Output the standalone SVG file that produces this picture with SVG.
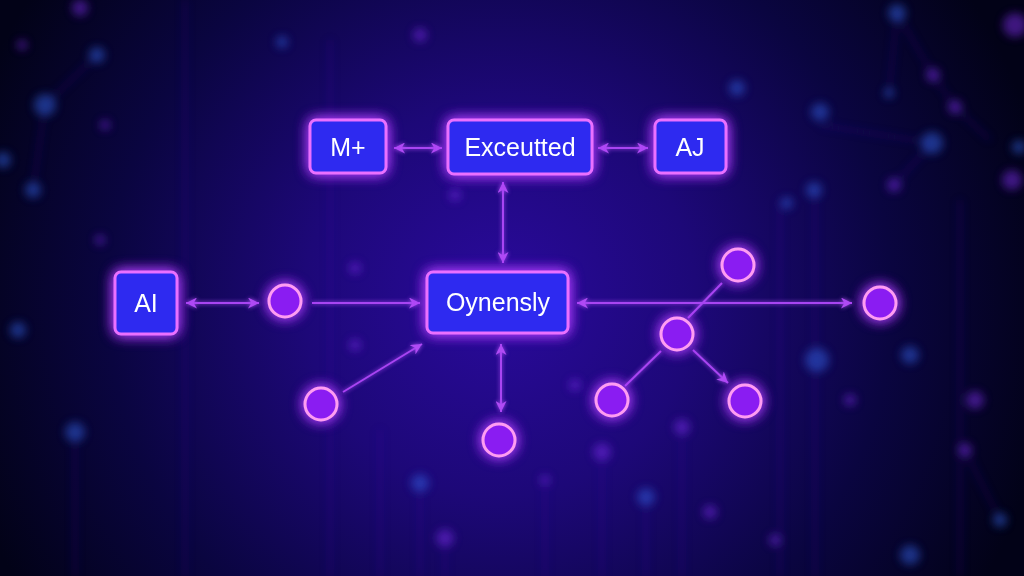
<svg xmlns="http://www.w3.org/2000/svg" width="1024" height="576" viewBox="0 0 1024 576">
  <defs>
    <radialGradient id="bg" cx="500" cy="300" r="560" gradientUnits="userSpaceOnUse">
      <stop offset="0" stop-color="#2a0a9c"/>
      <stop offset="0.35" stop-color="#1d0878"/>
      <stop offset="0.7" stop-color="#0a0540"/>
      <stop offset="1" stop-color="#020217"/>
    </radialGradient>
    <filter id="glow" x="-60%" y="-60%" width="220%" height="220%">
      <feGaussianBlur in="SourceAlpha" stdDeviation="7" result="b"/>
      <feFlood flood-color="#b03cff" flood-opacity="0.85"/>
      <feComposite in2="b" operator="in" result="halo"/>
      <feMerge><feMergeNode in="halo"/><feMergeNode in="halo"/><feMergeNode in="SourceGraphic"/></feMerge>
    </filter>
    <filter id="soft" x="-100%" y="-100%" width="300%" height="300%">
      <feGaussianBlur stdDeviation="4"/>
    </filter>
    <filter id="lineglow" x="-20%" y="-20%" width="140%" height="140%">
      <feGaussianBlur in="SourceGraphic" stdDeviation="2" result="b"/>
      <feMerge><feMergeNode in="b"/><feMergeNode in="SourceGraphic"/></feMerge>
    </filter>
    <marker id="ah" viewBox="0 0 10 10" refX="10" refY="5" markerWidth="5.5" markerHeight="5.5" orient="auto-start-reverse" markerUnits="strokeWidth">
      <path d="M0,0 L10,5 L0,10 L3,5 z" fill="#b04cf5"/>
    </marker>
    <style>
      .box { fill: #2d2cf0; stroke: #ea70ff; stroke-width: 3; }
      .lbl { fill: #ffffff; font-family: "Liberation Sans", Arial, sans-serif; font-size: 25px; text-anchor: middle; dominant-baseline: central; }
      .dot { fill: #8a1ff2; stroke: #ff9cf2; stroke-width: 3; }
      .conn { stroke: #a844f2; stroke-width: 2; fill: none; }
      .bgl { stroke: #3a2bb0; stroke-width: 2; opacity: 0.4; }
      .bgb { fill: #2f5fe0; opacity: 0.5; }
      .bgp { fill: #7a2be8; opacity: 0.5; }
    </style>
  </defs>

  <rect width="1024" height="576" fill="url(#bg)"/>

  <g id="background" filter="url(#soft)">
    <line class="bgl" x1="185" y1="0" x2="185" y2="576"/>
    <line class="bgl" x1="330" y1="40" x2="330" y2="576"/>
    <line class="bgl" x1="420" y1="483" x2="420" y2="576"/>
    <line class="bgl" x1="445" y1="538" x2="445" y2="576"/>
    <line class="bgl" x1="602" y1="452" x2="602" y2="576"/>
    <line class="bgl" x1="646" y1="497" x2="646" y2="576"/>
    <line class="bgl" x1="682" y1="427" x2="682" y2="576"/>
    <line class="bgl" x1="545" y1="480" x2="545" y2="576"/>
    <line class="bgl" x1="380" y1="430" x2="380" y2="576"/>
    <line class="bgl" x1="780" y1="200" x2="780" y2="576"/>
    <line class="bgl" x1="815" y1="190" x2="815" y2="576"/>
    <line class="bgl" x1="897" y1="13" x2="889" y2="93"/>
    <line class="bgl" x1="897" y1="13" x2="933" y2="75"/>
    <line class="bgl" x1="933" y1="75" x2="955" y2="107"/>
    <line class="bgl" x1="955" y1="107" x2="990" y2="140"/>
    <line class="bgl" x1="820" y1="125" x2="932" y2="143"/>
    <line class="bgl" x1="932" y1="143" x2="894" y2="185"/>
    <line class="bgl" x1="45" y1="105" x2="97" y2="55"/>
    <line class="bgl" x1="45" y1="105" x2="33" y2="190"/>
    <line class="bgl" x1="965" y1="450" x2="1000" y2="520"/>
    <line class="bgl" x1="960" y1="200" x2="960" y2="576"/>
    <line class="bgl" x1="75" y1="432" x2="75" y2="576"/>
    <circle class="bgb" cx="45" cy="105" r="11"/>
    <circle class="bgb" cx="97" cy="55" r="8"/>
    <circle class="bgp" cx="22" cy="45" r="5"/>
    <circle class="bgb" cx="33" cy="190" r="8"/>
    <circle class="bgb" cx="3" cy="160" r="8"/>
    <circle class="bgp" cx="105" cy="125" r="5"/>
    <circle class="bgb" cx="282" cy="42" r="6"/>
    <circle class="bgp" cx="80" cy="8" r="8"/>
    <circle class="bgb" cx="18" cy="330" r="8"/>
    <circle class="bgb" cx="75" cy="432" r="10"/>
    <circle class="bgp" cx="100" cy="240" r="5"/>
    <circle class="bgp" cx="420" cy="35" r="7"/>
    <circle class="bgp" cx="455" cy="195" r="6"/>
    <circle class="bgp" cx="355" cy="268" r="6"/>
    <circle class="bgp" cx="355" cy="345" r="6"/>
    <circle class="bgb" cx="420" cy="483" r="9"/>
    <circle class="bgp" cx="445" cy="538" r="9"/>
    <circle class="bgp" cx="602" cy="452" r="9"/>
    <circle class="bgb" cx="646" cy="497" r="9"/>
    <circle class="bgp" cx="682" cy="427" r="8"/>
    <circle class="bgp" cx="710" cy="512" r="7"/>
    <circle class="bgp" cx="545" cy="480" r="5"/>
    <circle class="bgp" cx="575" cy="385" r="6"/>
    <circle class="bgb" cx="897" cy="13" r="9"/>
    <circle class="bgp" cx="933" cy="75" r="7"/>
    <circle class="bgb" cx="889" cy="93" r="5"/>
    <circle class="bgp" cx="955" cy="107" r="7"/>
    <circle class="bgb" cx="932" cy="143" r="11"/>
    <circle class="bgp" cx="894" cy="185" r="7"/>
    <circle class="bgb" cx="820" cy="112" r="9"/>
    <circle class="bgb" cx="737" cy="88" r="8"/>
    <circle class="bgb" cx="814" cy="190" r="8"/>
    <circle class="bgb" cx="787" cy="203" r="6"/>
    <circle class="bgp" cx="1012" cy="180" r="10"/>
    <circle class="bgp" cx="1015" cy="25" r="12"/>
    <circle class="bgb" cx="1019" cy="147" r="7"/>
    <circle class="bgb" cx="817" cy="360" r="12"/>
    <circle class="bgb" cx="910" cy="355" r="9"/>
    <circle class="bgp" cx="975" cy="400" r="9"/>
    <circle class="bgp" cx="965" cy="450" r="7"/>
    <circle class="bgp" cx="850" cy="400" r="6"/>
    <circle class="bgb" cx="1000" cy="520" r="7"/>
    <circle class="bgb" cx="910" cy="555" r="10"/>
    <circle class="bgp" cx="775" cy="540" r="6"/>
  </g>

  <g id="connectors" class="conn" filter="url(#lineglow)">
    <line x1="394" y1="148" x2="442" y2="148" marker-start="url(#ah)" marker-end="url(#ah)"/>
    <line x1="598" y1="148" x2="648" y2="148" marker-start="url(#ah)" marker-end="url(#ah)"/>
    <line x1="503" y1="182" x2="503" y2="263" marker-start="url(#ah)" marker-end="url(#ah)"/>
    <line x1="186" y1="303" x2="259" y2="303" marker-start="url(#ah)" marker-end="url(#ah)"/>
    <line x1="312" y1="303" x2="420" y2="303" marker-end="url(#ah)"/>
    <line x1="343" y1="392" x2="422" y2="344" marker-end="url(#ah)"/>
    <line x1="501" y1="344" x2="501" y2="412" marker-start="url(#ah)" marker-end="url(#ah)"/>
    <line x1="577" y1="303" x2="852" y2="303" marker-start="url(#ah)" marker-end="url(#ah)"/>
    <line x1="722" y1="283" x2="688" y2="318"/>
    <line x1="661" y1="351" x2="625" y2="386"/>
    <line x1="693" y1="350" x2="728" y2="383" marker-end="url(#ah)"/>
  </g>

  <g id="node-mplus" filter="url(#glow)">
    <rect class="box" x="310" y="120" width="76" height="53" rx="6"/>
    <text class="lbl" x="348" y="147">M+</text>
  </g>
  <g id="node-executed" filter="url(#glow)">
    <rect class="box" x="448" y="120" width="144" height="54" rx="6"/>
    <text class="lbl" x="520" y="147">Exceutted</text>
  </g>
  <g id="node-aj" filter="url(#glow)">
    <rect class="box" x="655" y="120" width="71" height="53" rx="6"/>
    <text class="lbl" x="690" y="147">AJ</text>
  </g>
  <g id="node-ai" filter="url(#glow)">
    <rect class="box" x="115" y="272" width="62" height="62" rx="6"/>
    <text class="lbl" x="146" y="303">AI</text>
  </g>
  <g id="node-oynensly" filter="url(#glow)">
    <rect class="box" x="427" y="272" width="141" height="61" rx="6"/>
    <text class="lbl" x="498" y="302">Oynensly</text>
  </g>

  <g id="circle-1" filter="url(#glow)"><circle class="dot" cx="285" cy="301" r="16"/></g>
  <g id="circle-2" filter="url(#glow)"><circle class="dot" cx="321" cy="404" r="16"/></g>
  <g id="circle-3" filter="url(#glow)"><circle class="dot" cx="499" cy="440" r="16"/></g>
  <g id="circle-4" filter="url(#glow)"><circle class="dot" cx="738" cy="265" r="16"/></g>
  <g id="circle-5" filter="url(#glow)"><circle class="dot" cx="677" cy="334" r="16"/></g>
  <g id="circle-6" filter="url(#glow)"><circle class="dot" cx="880" cy="303" r="16"/></g>
  <g id="circle-7" filter="url(#glow)"><circle class="dot" cx="612" cy="400" r="16"/></g>
  <g id="circle-8" filter="url(#glow)"><circle class="dot" cx="745" cy="401" r="16"/></g>
</svg>
